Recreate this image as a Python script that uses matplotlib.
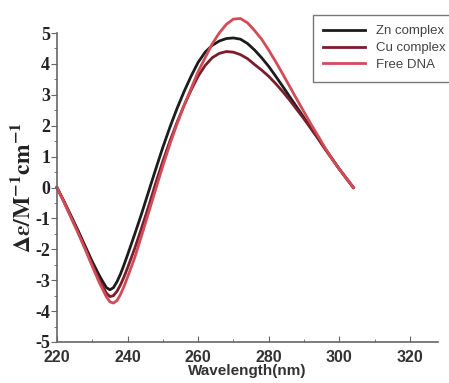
import matplotlib.pyplot as plt
from matplotlib.ticker import MultipleLocator

plt.rcParams['mathtext.fontset'] = 'stix'
plt.rcParams['axes.unicode_minus'] = False

# wavelengths (nm) and CD values
wl_zn = [220, 222, 224, 226, 228, 230, 232, 233, 234, 235, 236, 237, 238, 239, 240,
         242, 244, 246, 248, 250, 252, 254, 256, 258, 260, 262, 264, 266, 268, 270,
         272, 274, 276, 278, 280, 282, 284, 286, 288, 290, 292, 294, 296, 298, 300,
         302, 304]
zn = [0, -0.45, -0.92, -1.4, -1.9, -2.4, -2.85, -3.05, -3.24, -3.31, -3.24, -3.05,
      -2.8, -2.5, -2.18, -1.52, -0.84, -0.12, 0.6, 1.3, 1.95, 2.55, 3.1, 3.6, 4.05,
      4.38, 4.6, 4.74, 4.82, 4.84, 4.8, 4.66, 4.45, 4.2, 3.92, 3.6, 3.27, 2.93, 2.6,
      2.26, 1.93, 1.6, 1.26, 0.93, 0.6, 0.3, 0]

wl_cu = [220, 222, 224, 226, 228, 230, 232, 234, 235, 236, 237, 238, 239, 240, 242,
         244, 246, 248, 250, 252, 254, 256, 258, 260, 262, 264, 266, 268, 270, 272,
         274, 276, 278, 280, 282, 284, 286, 288, 290, 292, 294, 296, 298, 300, 302,
         304]
cu = [0, -0.47, -0.96, -1.45, -1.97, -2.5, -3.0, -3.42, -3.53, -3.5, -3.36, -3.15,
      -2.89, -2.6, -1.98, -1.3, -0.6, 0.15, 0.85, 1.5, 2.1, 2.65, 3.15, 3.6, 3.95, 4.2,
      4.34, 4.4, 4.38, 4.3, 4.17, 3.98, 3.8, 3.6, 3.36, 3.1, 2.82, 2.52, 2.22, 1.9,
      1.58, 1.24, 0.92, 0.6, 0.3, 0]

wl_dna = [220, 222, 224, 226, 228, 230, 232, 234, 235, 236, 237, 238, 239, 240, 242,
          244, 246, 248, 250, 252, 254, 256, 258, 260, 262, 264, 266, 268, 270, 272,
          274, 276, 278, 280, 282, 284, 286, 288, 290, 292, 294, 296, 298, 300, 302,
          304]
dna = [0, -0.48, -0.98, -1.48, -2.0, -2.55, -3.08, -3.54, -3.7, -3.74, -3.66, -3.46,
       -3.2, -2.9, -2.28, -1.55, -0.8, -0.05, 0.7, 1.4, 2.05, 2.65, 3.2, 3.75, 4.2,
       4.65, 5.0, 5.28, 5.45, 5.47, 5.33, 5.08, 4.8, 4.45, 4.07, 3.67, 3.26, 2.85,
       2.45, 2.05, 1.67, 1.28, 0.92, 0.6, 0.3, 0]

labels = ['Zn complex', 'Cu complex', 'Free DNA']
colors = ['#1c1c1c', '#7a1e2c', '#d24c58']

fig = plt.figure(figsize=(4.49, 3.83), dpi=100)
ax = fig.add_axes([57 / 449, 1 - 342 / 383, 381 / 449, 309 / 383])

ax.plot(wl_zn, zn, color=colors[0], lw=2, label=labels[0], clip_on=False)
ax.plot(wl_cu, cu, color=colors[1], lw=2, label=labels[1], clip_on=False)
ax.plot(wl_dna, dna, color=colors[2], lw=2, label=labels[2], clip_on=False)

ax.set_xlim(220, 328)
ax.set_ylim(-5, 5)
ax.spines['top'].set_visible(False)
ax.spines['right'].set_visible(False)
for s in ['left', 'bottom']:
    ax.spines[s].set_color('#666666')
    ax.spines[s].set_linewidth(1.2)

ax.xaxis.set_major_locator(MultipleLocator(20))
ax.xaxis.set_minor_locator(MultipleLocator(10))
ax.yaxis.set_major_locator(MultipleLocator(1))
ax.yaxis.set_minor_locator(MultipleLocator(0.5))
ax.tick_params(axis='x', which='both', direction='in', colors='#666666', pad=6)
ax.tick_params(axis='x', which='major', length=4)
ax.tick_params(axis='x', which='minor', length=2.5)
ax.tick_params(axis='y', which='both', direction='out', colors='#666666', pad=1)
ax.tick_params(axis='y', which='major', length=4)
ax.tick_params(axis='y', which='minor', length=2.5)

for t in ax.get_xticklabels():
    t.set_fontfamily('Liberation Sans')
    t.set_fontweight('bold')
    t.set_fontsize(11.5)
    t.set_color('#333333')
for t in ax.get_yticklabels():
    t.set_fontfamily('Liberation Serif')
    t.set_fontweight('bold')
    t.set_fontsize(13)
    t.set_color('#222222')

ax.set_xlabel('Wavelength(nm)', fontfamily='Liberation Sans', fontweight='bold',
              fontsize=11, color='#333333', labelpad=-1)
ax.set_ylabel(r'$\mathbf{\Delta\varepsilon/M^{-1}cm^{-1}}$', fontsize=17,
              color='#222222', labelpad=0)

leg = fig.legend(loc='upper left', bbox_to_anchor=(306 / 449, 1 - 8 / 383),
                 frameon=True, fancybox=False, handlelength=3.2,
                 prop={'family': 'Liberation Sans', 'size': 9.5},
                 borderpad=0.8, labelspacing=0.35)
leg.get_frame().set_edgecolor('#555555')
leg.get_frame().set_linewidth(1)
for t in leg.get_texts():
    t.set_color('#444444')

fig.savefig('out.png', dpi=100)
